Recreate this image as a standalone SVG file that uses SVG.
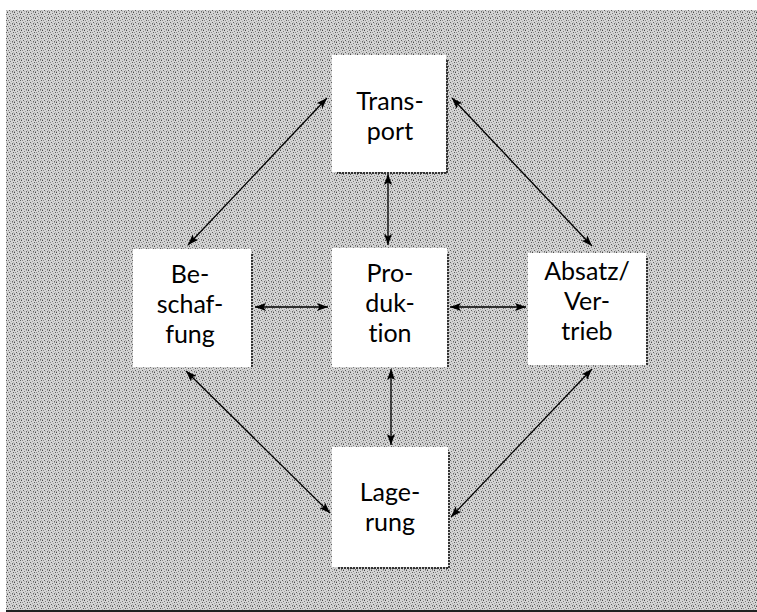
<svg xmlns="http://www.w3.org/2000/svg" width="757" height="612" viewBox="0 0 757 612">
  <defs>
    <pattern id="stip" width="7" height="6" patternUnits="userSpaceOnUse">
      <rect width="7" height="6" fill="#d4d4d4"/>
      <rect x="0" y="0" width="1" height="1" fill="#4a4a4a"/>
      <rect x="3" y="1" width="1" height="1" fill="#7a7a7a"/>
      <rect x="5" y="0" width="1" height="1" fill="#9a9a9a"/>
      <rect x="1" y="2" width="1" height="1" fill="#8a8a8a"/>
      <rect x="6" y="2" width="1" height="1" fill="#5a5a5a"/>
      <rect x="4" y="3" width="1" height="1" fill="#a4a4a4"/>
      <rect x="2" y="4" width="1" height="1" fill="#5e5e5e"/>
      <rect x="0" y="5" width="1" height="1" fill="#9e9e9e"/>
      <rect x="5" y="5" width="1" height="1" fill="#6a6a6a"/>
      <rect x="3" y="5" width="1" height="1" fill="#b4b4b4"/>
      <rect x="6" y="4" width="1" height="1" fill="#b0b0b0"/>
    </pattern>
    <marker id="ah" viewBox="0 0 11 8" refX="11" refY="4" markerWidth="11" markerHeight="8" markerUnits="userSpaceOnUse" orient="auto-start-reverse">
      <path d="M0,0 L11,4 L0,8 L2.5,4 Z" fill="#000"/>
    </marker>
    <style>
      .box { fill: #ffffff; }
      .shadow { fill: none; stroke: #333; stroke-width: 2; stroke-dasharray: 2 1; }
      .lbl { font-family: Lato, "Open Sans", "Noto Sans", sans-serif; font-size: 25px; fill: #000; text-anchor: middle; font-variant-ligatures: none; font-feature-settings: "liga" 0, "clig" 0; }
      .conn { stroke: #000; stroke-width: 1.3; fill: none; marker-start: url(#ah); marker-end: url(#ah); }
    </style>
  </defs>

  <rect x="0" y="0" width="757" height="612" fill="#ffffff"/>
  <rect x="6" y="10" width="751" height="602" fill="url(#stip)"/>
  <line x1="6" y1="611" x2="757" y2="611" stroke="#222" stroke-width="2"/>

  <g id="connectors">
    <line class="conn" x1="327" y1="98" x2="188" y2="245"/>
    <line class="conn" x1="452" y1="98" x2="592" y2="246"/>
    <line class="conn" x1="388" y1="174" x2="388" y2="245"/>
    <line class="conn" x1="255" y1="307" x2="328" y2="307"/>
    <line class="conn" x1="450" y1="307" x2="526" y2="307"/>
    <line class="conn" x1="391" y1="369" x2="391" y2="445"/>
    <line class="conn" x1="186" y1="371" x2="330" y2="513"/>
    <line class="conn" x1="592" y1="369" x2="451" y2="517"/>
  </g>

  <g id="transport">
    <rect class="box" x="332" y="55" width="114" height="117"/>
    <path class="shadow" d="M447,60 V173 H337"/>
    <text class="lbl" x="390" y="110">Trans-</text>
    <text class="lbl" x="390" y="140">port</text>
  </g>

  <g id="beschaffung">
    <rect class="box" x="133" y="249" width="118" height="118"/>
    <path class="shadow" d="M252,254 V368"/>
    <text class="lbl" x="190" y="283">Be-</text>
    <text class="lbl" x="190" y="313">schaf-</text>
    <text class="lbl" x="190" y="343">fung</text>
  </g>

  <g id="produktion">
    <rect class="box" x="332" y="248" width="115" height="119"/>
    <path class="shadow" d="M448,254 V368"/>
    <text class="lbl" x="390" y="282">Pro-</text>
    <text class="lbl" x="390" y="312">duk-</text>
    <text class="lbl" x="390" y="342">tion</text>
  </g>

  <g id="absatz">
    <rect class="box" x="528" y="253" width="118" height="112"/>
    <path class="shadow" d="M647,258 V366"/>
    <text class="lbl" x="587" y="280">Absatz/</text>
    <text class="lbl" x="587" y="310">Ver-</text>
    <text class="lbl" x="587" y="340">trieb</text>
  </g>

  <g id="lagerung">
    <rect class="box" x="332" y="447" width="116" height="120"/>
    <path class="shadow" d="M449,452 V568 H337"/>
    <text class="lbl" x="390" y="501">Lage-</text>
    <text class="lbl" x="390" y="531">rung</text>
  </g>
</svg>
